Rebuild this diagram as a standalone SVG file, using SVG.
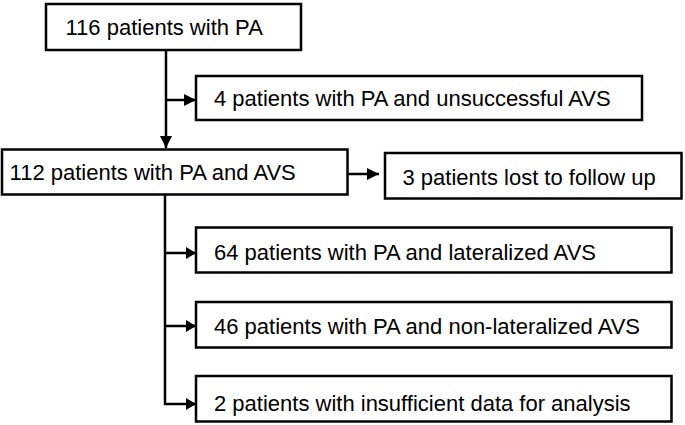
<svg xmlns="http://www.w3.org/2000/svg" width="685" height="425" viewBox="0 0 685 425">
<defs>
<style>
.box{fill:#fff;stroke:#000;stroke-width:2.5}
.lbl{font-family:"Liberation Sans",Arial,sans-serif;font-size:22px;fill:#000}
.ln{fill:none;stroke:#000;stroke-width:2.5}
</style>
<marker id="ah" viewBox="0 0 12 12" refX="12" refY="6" markerWidth="12" markerHeight="12" markerUnits="userSpaceOnUse" orient="auto">
<path d="M0,0 L12,6 L0,12 Z" fill="#000"/>
</marker>
<marker id="ahs" viewBox="0 0 10 12" refX="10" refY="6" markerWidth="10" markerHeight="12" markerUnits="userSpaceOnUse" orient="auto">
<path d="M0,0 L10,6 L0,12 Z" fill="#000"/>
</marker>
</defs>
<rect width="685" height="425" fill="#fff"/>
<g id="connectors">
<line class="ln" x1="166" y1="50" x2="166" y2="148" marker-end="url(#ah)"/>
<line class="ln" x1="166" y1="100" x2="196" y2="100" marker-end="url(#ah)"/>
<line class="ln" x1="347" y1="174" x2="379" y2="174" marker-end="url(#ah)"/>
<line class="ln" x1="165" y1="195" x2="165" y2="405"/>
<line class="ln" x1="164" y1="253" x2="196" y2="253" marker-end="url(#ahs)"/>
<line class="ln" x1="164" y1="326" x2="196" y2="326" marker-end="url(#ahs)"/>
<line class="ln" x1="164" y1="404" x2="196" y2="404" marker-end="url(#ahs)"/>
</g>
<g id="n1"><rect class="box" x="46" y="4" width="255" height="46"/><text class="lbl" x="65.5" y="35">116 patients with PA</text></g>
<g id="n2"><rect class="box" x="196" y="76" width="446" height="44"/><text class="lbl" x="214" y="106">4 patients with PA and unsuccessful AVS</text></g>
<g id="n3"><rect class="box" x="2" y="149.5" width="345.5" height="45"/><text class="lbl" x="9.6" y="180">112 patients with PA and AVS</text></g>
<g id="n4"><rect class="box" x="385" y="153" width="296.5" height="45.5"/><text class="lbl" x="402.5" y="184.5">3 patients lost to follow up</text></g>
<g id="n5"><rect class="box" x="196" y="227.5" width="475.5" height="45"/><text class="lbl" x="214" y="260">64 patients with PA and lateralized AVS</text></g>
<g id="n6"><rect class="box" x="196" y="302" width="475.5" height="45.5"/><text class="lbl" x="214" y="334">46 patients with PA and non-lateralized AVS</text></g>
<g id="n7"><rect class="box" x="196" y="376" width="475.5" height="45.5"/><text class="lbl" x="214" y="411">2 patients with insufficient data for analysis</text></g>
</svg>
